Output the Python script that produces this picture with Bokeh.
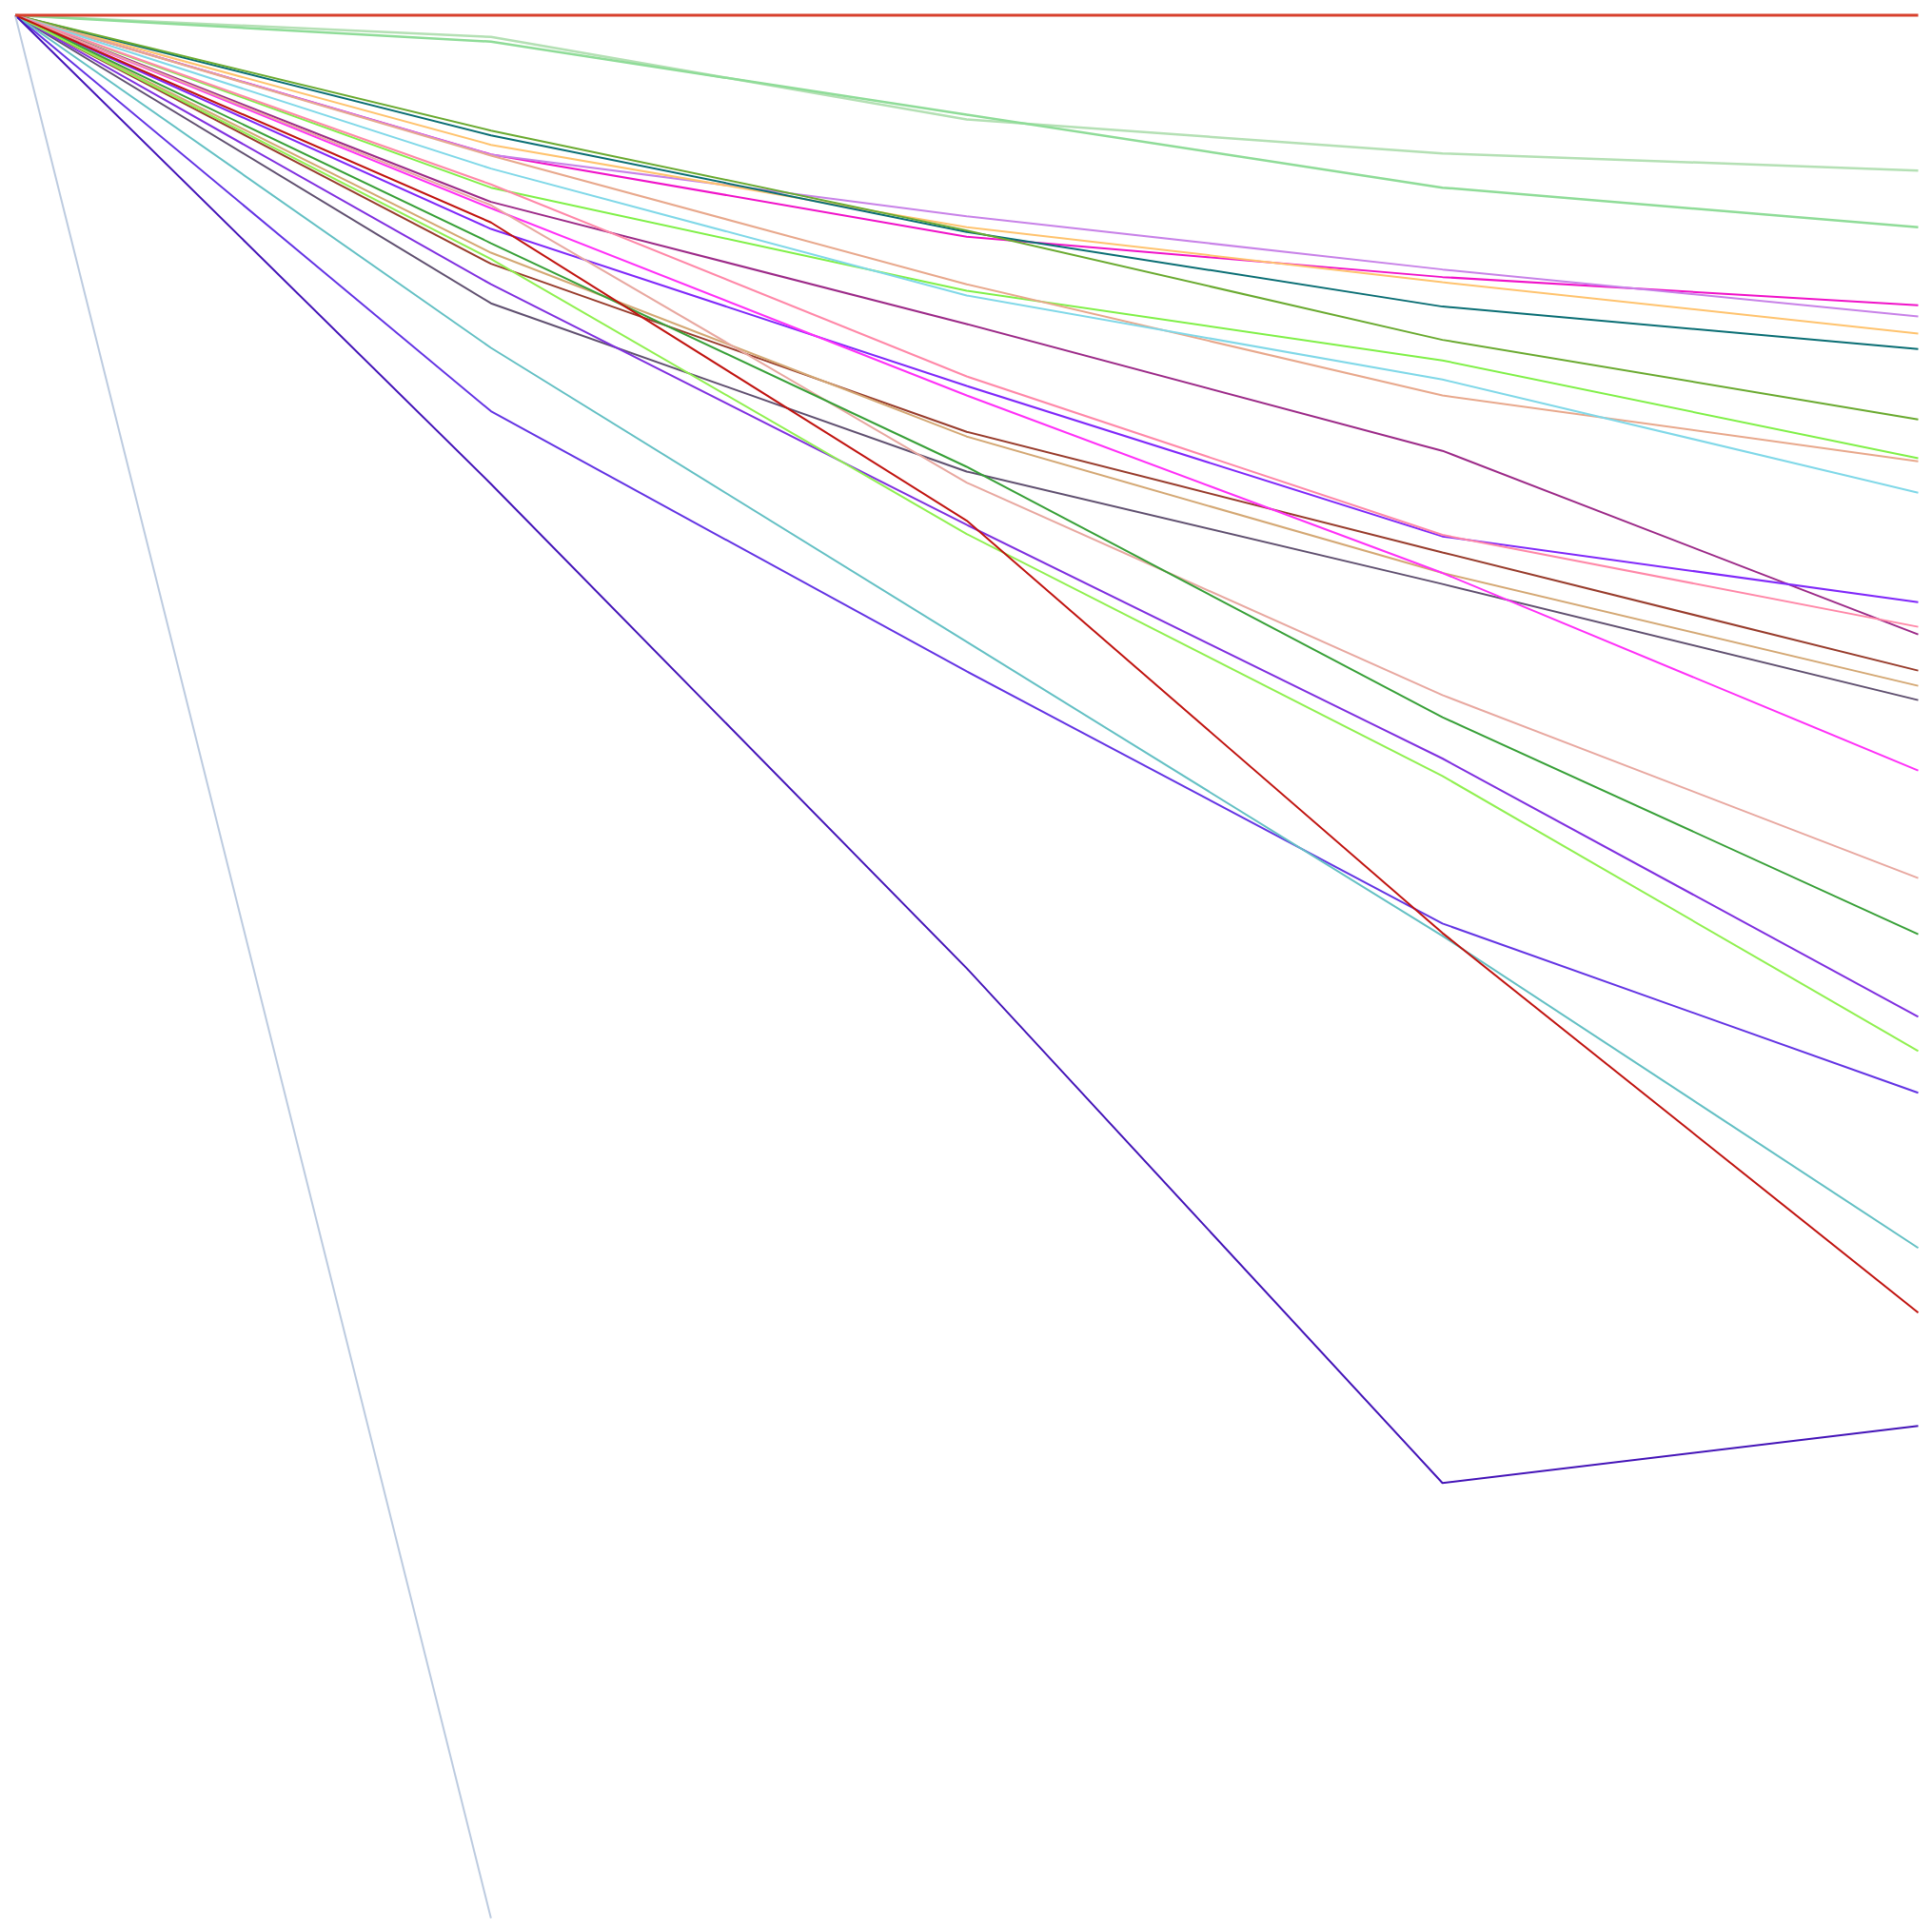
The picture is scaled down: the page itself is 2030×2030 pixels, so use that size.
from bokeh.plotting import figure
from bokeh.models import Range1d
from bokeh.embed import file_html
from bokeh.resources import INLINE

steps = [0, 1, 2, 3, 4]

series_names = [
    "s01", "s02", "s03", "s04", "s05", "s06", "s07", "s08", "s09", "s10",
    "s11", "s12", "s13", "s14", "s15", "s16", "s17", "s18", "s19", "s20",
    "s21", "s22", "s23", "s24", "s25", "s26", "s27",
]

s01 = [0, 0, 0, 0, 0]
s02 = [0, -1.14, -5.48, -7.26, -8.16]
s03 = [0, -1.39, -5.23, -9.06, -11.14]
s04 = [0, -7.31, -11.64, -13.76, -15.24]
s05 = [0, -7.33, -10.56, -13.36, -15.83]
s06 = [0, -6.81, -11.14, -14.03, -16.73]
s07 = [0, -6.31, -11.39, -15.31, -17.54]
s08 = [0, -6.06, -11.31, -17.06, -21.24]
s09 = [0, -9.06, -14.48, -18.14, -23.28]
s10 = [0, -7.38, -14.14, -19.98, -23.44]
s11 = [0, -8.06, -14.73, -19.14, -25.09]
s12 = [0, -9.81, -16.23, -22.89, -32.54]
s13 = [0, -11.23, -19.48, -27.39, -30.84]
s14 = [0, -8.89, -18.98, -27.31, -32.14]
s15 = [0, -13.06, -21.89, -28.23, -34.44]
s16 = [0, -12.48, -22.14, -29.31, -35.24]
s17 = [0, -15.14, -23.98, -29.89, -35.99]
s18 = [0, -10.14, -19.98, -29.31, -39.69]
s19 = [0, -9.98, -24.56, -35.73, -45.34]
s20 = [0, -11.98, -23.73, -36.89, -48.29]
s21 = [0, -14.14, -26.78, -39.06, -52.63]
s22 = [0, -12.81, -27.26, -39.98, -54.43]
s23 = [0, -20.81, -34.48, -47.73, -56.63]
s24 = [0, -17.48, -32.93, -48.38, -64.78]
s25 = [0, -10.89, -26.56, -48.23, -68.18]
s26 = [0, -24.63, -50.08, -77.13, -74.13]
s27 = [0, -100.0]

series_values = [s01, s02, s03, s04, s05, s06, s07, s08, s09, s10, s11, s12, s13,
                 s14, s15, s16, s17, s18, s19, s20, s21, s22, s23, s24, s25, s26, s27]

colors = [
    "#d8402c", "#b4e0b4", "#8fdc98", "#f012c9", "#c882e8", "#ffc36e", "#0a6e74",
    "#6aaa30", "#80f048", "#e8a88c", "#80d8e8", "#9c2a88", "#8028fa", "#ff88a8",
    "#983c2c", "#d4a874", "#605070", "#ff30f8", "#e8a8a0", "#38a038", "#8030e0",
    "#90f050", "#6434e4", "#64c0c4", "#c01410", "#4414b8", "#bccbe0",
]
widths = [3, 2.5, 2.5] + [2] * 24

p = figure(width=2025, height=2025, output_backend="svg", toolbar_location=None,
           min_border=0, x_range=Range1d(-0.031, 4.020), y_range=Range1d(-100.5, 0.775))
p.axis.visible = False
p.grid.visible = False
p.outline_line_color = None
p.background_fill_color = "white"
p.border_fill_color = "white"

order = list(range(1, len(series_values))) + [0]
for i in order:
    ys = series_values[i]
    p.line(steps[:len(ys)], ys, line_color=colors[i], line_width=widths[i])

open("out.html", "w").write(file_html(p, INLINE))
